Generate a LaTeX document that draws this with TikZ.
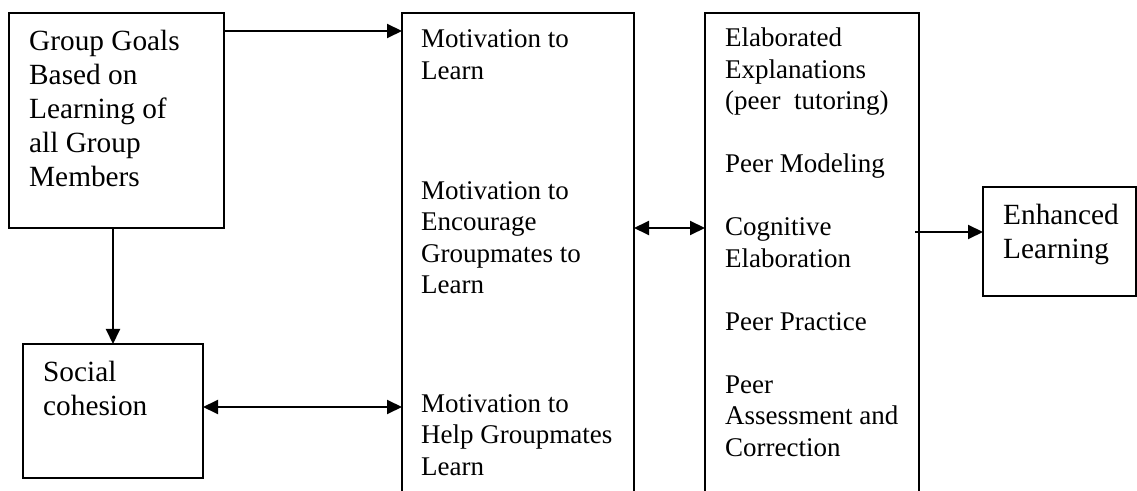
\documentclass[tikz,border=0pt]{standalone}
\usepackage{fontspec}
\setmainfont{Liberation Serif}
\usetikzlibrary{arrows.meta,calc}
\newcommand\mylines[1]{\begin{tabular}[t]{@{}l@{}}#1\end{tabular}}
\begin{document}
\begin{tikzpicture}[x=1bp,y=-1bp,
  box/.style={draw=black, line width=1.2bp, inner sep=0, outer sep=0, anchor=north west},
  big/.style={inner sep=0, anchor=base west, font=\fontsize{29.3bp}{34bp}\selectfont},
  small/.style={inner sep=0, anchor=base west, font=\fontsize{27bp}{31.5bp}\selectfont},
  arr/.style={line width=2bp, -{Triangle[length=15bp,width=14bp]}},
  arrboth/.style={line width=2bp, {Triangle[length=15bp,width=14bp]}-{Triangle[length=15bp,width=14bp]}}]
\useasboundingbox (0,0) rectangle (1137,491);
\clip (0,0) rectangle (1137,491);
% boxes
\node[box, minimum width=215bp, minimum height=215bp] (g) at (9,13) {};
\node[box, minimum width=180bp, minimum height=134bp] (s) at (23,344) {};
\node[box, minimum width=232bp, minimum height=520bp] (m) at (402,13) {};
\node[box, minimum width=214bp, minimum height=520bp] (e) at (705,13) {};
\node[box, minimum width=153bp, minimum height=109bp] (o) at (983,187) {};
% texts
\node[big] (tg) at (29,50.5) {\mylines{Group Goals\\Based on\\Learning of\\all Group\\Members}};
\node[big] (ts) at (43,382) {\mylines{Social\\cohesion}};
\node[big] (to) at (1003,225) {\mylines{Enhanced\\Learning}};
\node[small] (tm1) at (421,48) {\mylines{Motivation to\\Learn}};
\node[small] (tm2) at (421,199.5) {\mylines{Motivation to\\Encourage\\Groupmates to\\Learn}};
\node[small] (tm3) at (421,412) {\mylines{Motivation to\\Help Groupmates\\Learn}};
\node[small] (te) at (725,47) {\mylines{Elaborated\\Explanations\\(peer\ \ tutoring)\\[31.5bp]Peer Modeling\\[31.5bp]Cognitive\\Elaboration\\[31.5bp]Peer Practice\\[31.5bp]Peer\\Assessment and\\Correction}};
% connectors
\draw[arr] ($(g.north east)+(0,18)$) coordinate (a1) -- (a1 -| m.west);
\draw[arr] ($(g.south west)+(104,0)$) coordinate (a2) -- (a2 |- s.north);
\draw[arrboth] ($(s.north east)+(0,63)$) coordinate (a3) -- (a3 -| m.west);
\draw[arrboth] ($(m.north east)+(0,215)$) coordinate (a4) -- (a4 -| e.west);
\draw[arr] ($(e.north east)+(-4,219)$) coordinate (a5) -- (a5 -| o.west);
\end{tikzpicture}
\end{document}
